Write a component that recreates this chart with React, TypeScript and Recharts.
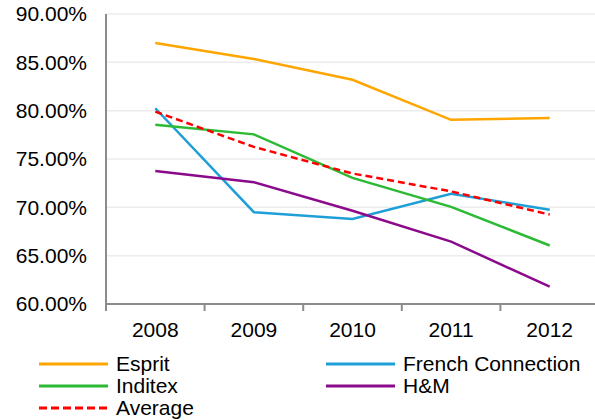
import { CartesianGrid, Legend, Line, LineChart, XAxis, YAxis } from "recharts";

const years = ["2008", "2009", "2010", "2011", "2012"];
const esprit = [87.0, 85.35, 83.2, 79.05, 79.25];
const frenchConnection = [80.25, 69.5, 68.8, 71.4, 69.75];
const inditex = [78.55, 77.55, 73.05, 70.05, 66.05];
const hm = [73.75, 72.6, 69.65, 66.45, 61.8];
const average = [79.9, 76.25, 73.5, 71.65, 69.25];
const yTicks = [60, 65, 70, 75, 80, 85, 90];

const series = [
  { key: "Esprit", values: esprit, color: "#ffa500", dash: undefined },
  { key: "French Connection", values: frenchConnection, color: "#1f9fd8", dash: undefined },
  { key: "Inditex", values: inditex, color: "#2cba35", dash: undefined },
  { key: "H&M", values: hm, color: "#8b0a8b", dash: undefined },
  { key: "Average", values: average, color: "#ff0000", dash: "7 4" },
];

const data = years.map((year, i) => {
  const row: Record<string, string | number> = { year };
  series.forEach((s) => {
    row[s.key] = s.values[i];
  });
  return row;
});

const FONT = "'Liberation Sans', Arial, sans-serif";
const CHART_W = 600;
const CHART_H = 420;
const Y_AXIS_W = 106;
const MARGIN = { top: 14, right: 1, left: 0, bottom: 0 };
const BAND = (CHART_W - MARGIN.left - MARGIN.right - Y_AXIS_W) / years.length;
const AXIS_COLOR = "#8c8c8c";

function YearTick(props: any) {
  const { x, y, payload } = props;
  const left = x - BAND / 2;
  return (
    <g>
      <line x1={left} y1={y} x2={left} y2={y + 7} stroke={AXIS_COLOR} strokeWidth={2} />
      <text x={x} y={y + 33} textAnchor="middle" fontSize={21} fontFamily={FONT} fill="#000">
        {payload.value}
      </text>
    </g>
  );
}

function LegendBox() {
  return (
    <div
      style={{
        height: 76,
        boxSizing: "border-box",
        paddingTop: 9,
        paddingLeft: 39,
        display: "grid",
        gridTemplateColumns: "287px auto",
        gridAutoRows: "22px",
        fontFamily: FONT,
        fontSize: 21,
        lineHeight: "22px",
        color: "#000",
      }}
    >
      {series.map((s) => (
        <div key={s.key} style={{ display: "flex", alignItems: "center", whiteSpace: "nowrap" }}>
          <svg width={77} height={22} style={{ flex: "none" }}>
            <line
              x1={0}
              y1={11}
              x2={69}
              y2={11}
              stroke={s.color}
              strokeWidth={3}
              strokeDasharray={s.dash ? "8 4" : undefined}
            />
          </svg>
          <span>{s.key}</span>
        </div>
      ))}
    </div>
  );
}

export default function App() {
  return (
    <div
      style={{
        position: "absolute",
        left: 0,
        top: 0,
        width: 595,
        height: 420,
        overflow: "hidden",
        background: "#fff",
      }}
    >
      <LineChart width={CHART_W} height={CHART_H} data={data} margin={MARGIN}>
        <CartesianGrid vertical={false} stroke="#ececec" strokeWidth={1.5} />
        <XAxis
          dataKey="year"
          height={40}
          padding={{ left: BAND / 2, right: BAND / 2 }}
          axisLine={{ stroke: AXIS_COLOR, strokeWidth: 2 }}
          tickLine={false}
          tickSize={0}
          tickMargin={0}
          tick={<YearTick />}
          interval={0}
        />
        <YAxis
          width={Y_AXIS_W}
          domain={[60, 90]}
          ticks={yTicks}
          interval={0}
          axisLine={{ stroke: AXIS_COLOR, strokeWidth: 2 }}
          tickLine={false}
          tickSize={0}
          tickMargin={19}
          tickFormatter={(v: number) => `${v.toFixed(2)}%`}
          tick={{ fontSize: 21, fontFamily: FONT, fill: "#000" }}
        />
        {series.map((s) => (
          <Line
            key={s.key}
            dataKey={s.key}
            type="linear"
            stroke={s.color}
            strokeWidth={2.5}
            strokeDasharray={s.dash}
            dot={false}
            activeDot={false}
            isAnimationActive={false}
          />
        ))}
        <Legend
          verticalAlign="bottom"
          wrapperStyle={{ left: 0, width: CHART_W, bottom: 0 }}
          content={() => <LegendBox />}
        />
      </LineChart>
    </div>
  );
}
